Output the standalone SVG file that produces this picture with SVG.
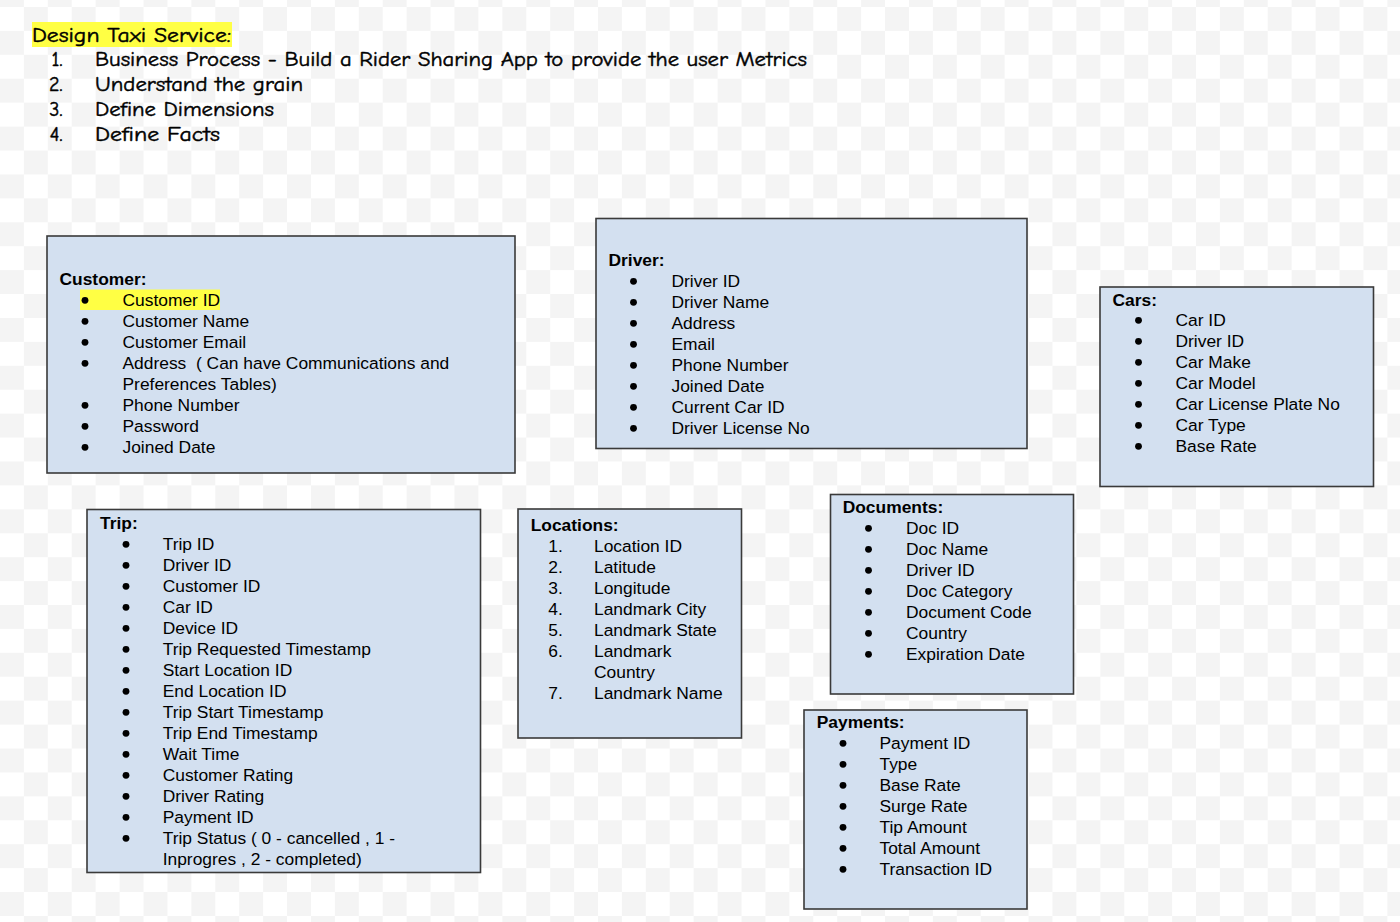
<svg xmlns="http://www.w3.org/2000/svg" width="1400" height="922" viewBox="0 0 1400 922">
<defs>
<pattern id="checker" x="0" y="7" width="47.84" height="47.84" patternUnits="userSpaceOnUse">
<rect x="0" y="0" width="47.84" height="47.84" fill="#ffffff"/>
<rect x="23.92" y="0" width="23.92" height="23.92" fill="#f4f4f4"/>
<rect x="0" y="23.92" width="23.92" height="23.92" fill="#f4f4f4"/>
</pattern>
</defs>
<style>
.hdr{font-family:"Comic Sans MS","Comic Neue","DejaVu Sans",sans-serif;font-size:20px;fill:#000;stroke:#000;stroke-width:0.45px}
.box{fill:#d3e0f0;stroke:#3a3a3a;stroke-width:1.6}
.t{font-family:"Liberation Sans",Arial,sans-serif;font-size:17.4px;fill:#000}
.h{font-family:"Liberation Sans",Arial,sans-serif;font-size:17.4px;font-weight:bold;fill:#000}
.b{fill:#000}
.hl{fill:#ffff44}
</style>
<rect x="0" y="0" width="1400" height="922" fill="url(#checker)"/>

<g id="title">
<rect class="hl" x="32" y="22" width="200" height="25"/>
<text class="hdr" x="32" y="42" textLength="199" lengthAdjust="spacingAndGlyphs">Design Taxi Service:</text>
<text class="hdr" x="62.5" y="66" text-anchor="end">1.</text>
<text class="hdr" x="95" y="66" textLength="712" lengthAdjust="spacingAndGlyphs">Business Process - Build a Rider Sharing App to provide the user Metrics</text>
<text class="hdr" x="62.5" y="91" text-anchor="end">2.</text>
<text class="hdr" x="95" y="91" textLength="208" lengthAdjust="spacingAndGlyphs">Understand the grain</text>
<text class="hdr" x="62.5" y="116" text-anchor="end">3.</text>
<text class="hdr" x="95" y="116" textLength="179" lengthAdjust="spacingAndGlyphs">Define Dimensions</text>
<text class="hdr" x="62.5" y="141" text-anchor="end">4.</text>
<text class="hdr" x="95" y="141" textLength="125" lengthAdjust="spacingAndGlyphs">Define Facts</text>
</g>

<g id="customer">
<rect class="box" x="47" y="236" width="468" height="237"/>
<text class="h" x="59.5" y="285">Customer:</text>
<rect class="hl" x="80" y="289.5" width="140" height="20.5"/>
<g class="b">
<circle cx="85" cy="300.3" r="3.4"/><circle cx="85" cy="321.3" r="3.4"/><circle cx="85" cy="342.3" r="3.4"/><circle cx="85" cy="363.3" r="3.4"/><circle cx="85" cy="405.3" r="3.4"/><circle cx="85" cy="426.3" r="3.4"/><circle cx="85" cy="447.3" r="3.4"/>
</g>
<text class="t" x="122.5" y="306">Customer ID</text>
<text class="t" x="122.5" y="327">Customer Name</text>
<text class="t" x="122.5" y="348">Customer Email</text>
<text class="t" x="122.5" y="369" xml:space="preserve">Address  ( Can have Communications and</text>
<text class="t" x="122.5" y="390">Preferences Tables)</text>
<text class="t" x="122.5" y="411">Phone Number</text>
<text class="t" x="122.5" y="432">Password</text>
<text class="t" x="122.5" y="453">Joined Date</text>
</g>

<g id="driver">
<rect class="box" x="596" y="218.5" width="431" height="230"/>
<text class="h" x="608.5" y="266">Driver:</text>
<g class="b">
<circle cx="633.5" cy="281.3" r="3.4"/><circle cx="633.5" cy="302.3" r="3.4"/><circle cx="633.5" cy="323.3" r="3.4"/><circle cx="633.5" cy="344.3" r="3.4"/><circle cx="633.5" cy="365.3" r="3.4"/><circle cx="633.5" cy="386.3" r="3.4"/><circle cx="633.5" cy="407.3" r="3.4"/><circle cx="633.5" cy="428.3" r="3.4"/>
</g>
<text class="t" x="671.5" y="287">Driver ID</text>
<text class="t" x="671.5" y="308">Driver Name</text>
<text class="t" x="671.5" y="329">Address</text>
<text class="t" x="671.5" y="350">Email</text>
<text class="t" x="671.5" y="371">Phone Number</text>
<text class="t" x="671.5" y="392">Joined Date</text>
<text class="t" x="671.5" y="413">Current Car ID</text>
<text class="t" x="671.5" y="434">Driver License No</text>
</g>

<g id="cars">
<rect class="box" x="1100" y="287" width="273.5" height="199.5"/>
<text class="h" x="1112.5" y="305.5">Cars:</text>
<g class="b">
<circle cx="1138.5" cy="320.3" r="3.4"/><circle cx="1138.5" cy="341.3" r="3.4"/><circle cx="1138.5" cy="362.3" r="3.4"/><circle cx="1138.5" cy="383.3" r="3.4"/><circle cx="1138.5" cy="404.3" r="3.4"/><circle cx="1138.5" cy="425.3" r="3.4"/><circle cx="1138.5" cy="446.3" r="3.4"/>
</g>
<text class="t" x="1175.5" y="326">Car ID</text>
<text class="t" x="1175.5" y="347">Driver ID</text>
<text class="t" x="1175.5" y="368">Car Make</text>
<text class="t" x="1175.5" y="389">Car Model</text>
<text class="t" x="1175.5" y="410">Car License Plate No</text>
<text class="t" x="1175.5" y="431">Car Type</text>
<text class="t" x="1175.5" y="452">Base Rate</text>
</g>

<g id="trip">
<rect class="box" x="87" y="509.5" width="393.5" height="363"/>
<text class="h" x="100" y="529">Trip:</text>
<g class="b">
<circle cx="126" cy="544.3" r="3.4"/><circle cx="126" cy="565.3" r="3.4"/><circle cx="126" cy="586.3" r="3.4"/><circle cx="126" cy="607.3" r="3.4"/><circle cx="126" cy="628.3" r="3.4"/><circle cx="126" cy="649.3" r="3.4"/><circle cx="126" cy="670.3" r="3.4"/><circle cx="126" cy="691.3" r="3.4"/><circle cx="126" cy="712.3" r="3.4"/><circle cx="126" cy="733.3" r="3.4"/><circle cx="126" cy="754.3" r="3.4"/><circle cx="126" cy="775.3" r="3.4"/><circle cx="126" cy="796.3" r="3.4"/><circle cx="126" cy="817.3" r="3.4"/><circle cx="126" cy="838.3" r="3.4"/>
</g>
<text class="t" x="162.7" y="550">Trip ID</text>
<text class="t" x="162.7" y="571">Driver ID</text>
<text class="t" x="162.7" y="592">Customer ID</text>
<text class="t" x="162.7" y="613">Car ID</text>
<text class="t" x="162.7" y="634">Device ID</text>
<text class="t" x="162.7" y="655">Trip Requested Timestamp</text>
<text class="t" x="162.7" y="676">Start Location ID</text>
<text class="t" x="162.7" y="697">End Location ID</text>
<text class="t" x="162.7" y="718">Trip Start Timestamp</text>
<text class="t" x="162.7" y="739">Trip End Timestamp</text>
<text class="t" x="162.7" y="760">Wait Time</text>
<text class="t" x="162.7" y="781">Customer Rating</text>
<text class="t" x="162.7" y="802">Driver Rating</text>
<text class="t" x="162.7" y="823">Payment ID</text>
<text class="t" x="162.7" y="844">Trip Status ( 0 - cancelled , 1 -</text>
<text class="t" x="162.7" y="865">Inprogres , 2 - completed)</text>
</g>

<g id="locations">
<rect class="box" x="518" y="509" width="223.5" height="229"/>
<text class="h" x="530.7" y="531">Locations:</text>
<text class="t" x="548.3" y="552">1.</text>
<text class="t" x="548.3" y="573">2.</text>
<text class="t" x="548.3" y="594">3.</text>
<text class="t" x="548.3" y="615">4.</text>
<text class="t" x="548.3" y="636">5.</text>
<text class="t" x="548.3" y="657">6.</text>
<text class="t" x="548.3" y="699">7.</text>
<text class="t" x="594" y="552">Location ID</text>
<text class="t" x="594" y="573">Latitude</text>
<text class="t" x="594" y="594">Longitude</text>
<text class="t" x="594" y="615">Landmark City</text>
<text class="t" x="594" y="636">Landmark State</text>
<text class="t" x="594" y="657">Landmark</text>
<text class="t" x="594" y="678">Country</text>
<text class="t" x="594" y="699">Landmark Name</text>
</g>

<g id="documents">
<rect class="box" x="830.5" y="494.5" width="243" height="199.5"/>
<text class="h" x="842.7" y="513">Documents:</text>
<g class="b">
<circle cx="868.5" cy="528.3" r="3.4"/><circle cx="868.5" cy="549.3" r="3.4"/><circle cx="868.5" cy="570.3" r="3.4"/><circle cx="868.5" cy="591.3" r="3.4"/><circle cx="868.5" cy="612.3" r="3.4"/><circle cx="868.5" cy="633.3" r="3.4"/><circle cx="868.5" cy="654.3" r="3.4"/>
</g>
<text class="t" x="906" y="534">Doc ID</text>
<text class="t" x="906" y="555">Doc Name</text>
<text class="t" x="906" y="576">Driver ID</text>
<text class="t" x="906" y="597">Doc Category</text>
<text class="t" x="906" y="618">Document Code</text>
<text class="t" x="906" y="639">Country</text>
<text class="t" x="906" y="660">Expiration Date</text>
</g>

<g id="payments">
<rect class="box" x="804" y="710" width="223" height="199"/>
<text class="h" x="816.7" y="728">Payments:</text>
<g class="b">
<circle cx="843" cy="743.3" r="3.4"/><circle cx="843" cy="764.3" r="3.4"/><circle cx="843" cy="785.3" r="3.4"/><circle cx="843" cy="806.3" r="3.4"/><circle cx="843" cy="827.3" r="3.4"/><circle cx="843" cy="848.3" r="3.4"/><circle cx="843" cy="869.3" r="3.4"/>
</g>
<text class="t" x="879.5" y="749">Payment ID</text>
<text class="t" x="879.5" y="770">Type</text>
<text class="t" x="879.5" y="791">Base Rate</text>
<text class="t" x="879.5" y="812">Surge Rate</text>
<text class="t" x="879.5" y="833">Tip Amount</text>
<text class="t" x="879.5" y="854">Total Amount</text>
<text class="t" x="879.5" y="875">Transaction ID</text>
</g>

<g id="connectors"></g>
</svg>
